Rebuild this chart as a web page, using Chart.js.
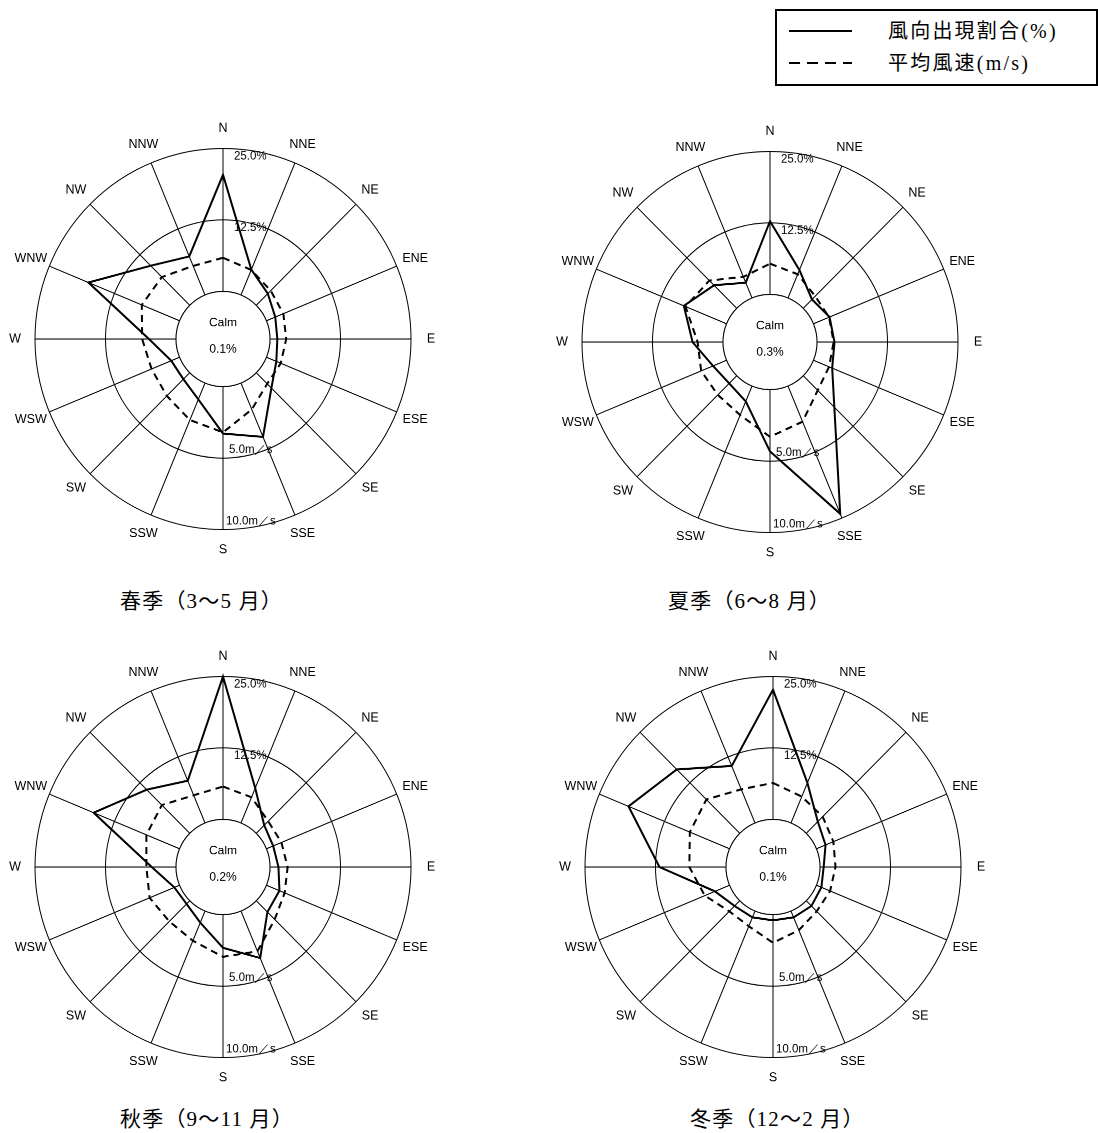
<!DOCTYPE html>
<html lang="ja">
<head>
<meta charset="utf-8">
<title>季節別風配図</title>
<script src="https://cdn.jsdelivr.net/npm/chart.js@4.4.1/dist/chart.umd.min.js"></script>
<style>
  html, body { margin: 0; padding: 0; background: #fff; }
  body { position: relative; width: 1098px; height: 1133px; overflow: hidden; }
  .rose { position: absolute; }
  .cap {
    position: absolute;
    font-family: "Liberation Serif", "Noto Sans CJK JP", serif;
    font-size: 21px;
    letter-spacing: 1.2px;
    line-height: 1;
    white-space: nowrap;
    color: #000;
  }
  #legend {
    position: absolute; left: 775px; top: 9px;
    width: 323px; height: 77px;
    box-sizing: border-box; border: 2px solid #000;
  }
  .lg-text {
    position: absolute; left: 111px;
    font-family: "Liberation Serif", "Noto Sans CJK JP", serif;
    font-size: 20px; letter-spacing: 2.2px; line-height: 1;
    white-space: nowrap;
  }
</style>
</head>
<body>

<div id="legend">
  <svg width="80" height="70" style="position:absolute;left:10px;top:0">
    <line x1="2" y1="20" x2="65" y2="20" stroke="#000" stroke-width="2"/>
    <line x1="2" y1="52" x2="65" y2="52" stroke="#000" stroke-width="2" stroke-dasharray="11 7"/>
  </svg>
  <div class="lg-text" style="top:10px">風向出現割合(%)</div>
  <div class="lg-text" style="top:42px">平均風速(m/s)</div>
</div>

<!-- the source figure is stretched a little vertically: 440 -> 446 -->
<canvas id="c0" class="rose" width="440" height="440" style="left:3px;top:116px;width:440px;height:446px"></canvas>
<canvas id="c1" class="rose" width="440" height="440" style="left:550px;top:119px;width:440px;height:446px"></canvas>
<canvas id="c2" class="rose" width="440" height="440" style="left:3px;top:644px;width:440px;height:446px"></canvas>
<canvas id="c3" class="rose" width="440" height="440" style="left:553px;top:644px;width:440px;height:446px"></canvas>

<div class="cap" id="t0" style="left:120px;top:591px"></div>
<div class="cap" id="t1" style="left:668px;top:591px"></div>
<div class="cap" id="t2" style="left:120px;top:1109px"></div>
<div class="cap" id="t3" style="left:690px;top:1109px"></div>

<script>
/* ================================================
   DATA
================================================ */

const DIRS = ['N', 'NNE', 'NE', 'ENE', 'E', 'ESE', 'SE', 'SSE',
              'S', 'SSW', 'SW', 'WSW', 'W', 'WNW', 'NW', 'NNW'];

/* ring values on each scale */
const PCT_RINGS = [12.5, 25.0];
const SPD_RINGS = [5.0, 10.0];

/* 風向出現割合 (%) */
const springPct = [20.4, 4.8, 2.9, 1.7, 1.3, 1.9, 3.8, 10.2, 8.2, 3.1, 1.6, 1.6, 4.8, 17.5, 9.8, 7.3];
const summerPct = [12.8, 5.3, 2.2, 3.1, 3.1, 3.6, 7.8, 24.2, 10.8, 2.9, 1.9, 2.6, 5.4, 8.2, 5.7, 2.9];
const autumnPct = [25.0, 6.6, 2.0, 1.3, 1.5, 2.5, 2.8, 8.9, 5.8, 2.2, 0.8, 1.0, 4.3, 16.5, 10.8, 8.0];
const winterPct = [22.7, 7.6, 2.9, 1.75, 0.65, 0.95, 1.3, 1.2, 1.0, 1.2, 1.3, 2.8, 11.8, 19.4, 15.8, 10.8];

/* 平均風速 (m/s) */
const springSpd = [2.35, 1.9, 1.45, 1.3, 1.15, 1.1, 1.1, 2.0, 3.2, 2.8, 2.3, 2.15, 2.4, 2.9, 2.8, 2.2];
const summerSpd = [2.15, 1.8, 1.2, 1.2, 1.18, 1.2, 1.45, 2.7, 3.3, 2.2, 1.9, 1.95, 1.8, 3.15, 2.75, 1.6];
const autumnSpd = [2.3, 1.95, 1.2, 1.15, 1.25, 1.4, 1.85, 3.05, 2.95, 2.25, 2.05, 2.3, 2.1, 2.55, 2.8, 2.1];
const winterSpd = [2.55, 2.0, 1.65, 1.3, 1.1, 1.05, 1.05, 1.45, 1.97, 1.15, 1.05, 1.9, 2.6, 3.05, 3.35, 2.55];

/* 静穏率 Calm (%) */
const calmPct = [0.1, 0.3, 0.2, 0.1];

const seasonTitles = ['春季（3～5 月）', '夏季（6～8 月）', '秋季（9～11 月）', '冬季（12～2 月）'];

const seasons = [
  { pct: springPct, spd: springSpd },
  { pct: summerPct, spd: summerSpd },
  { pct: autumnPct, spd: autumnSpd },
  { pct: winterPct, spd: winterSpd },
];

/* ================================================
   STYLE
================================================ */

const SANS = '"Liberation Sans", Arial, sans-serif';
const PCT_MAX = PCT_RINGS[PCT_RINGS.length - 1];
const SPD_MAX = SPD_RINGS[SPD_RINGS.length - 1];
/* the calm circle is 1/4 of the outer radius: min = -max/3 puts 0 there */

/* ================================================
   PLUGIN — calm circle, direction names, ring labels
================================================ */

const roseDecor = {
  id: 'roseDecor',
  beforeDatasetsDraw(chart, args, opts) {
    const r   = chart.scales.r;
    const s   = chart.scales.s;
    const ctx = chart.ctx;
    const cx  = r.xCenter;
    const cy  = r.yCenter;
    const hole = r.getDistanceFromCenterForValue(0);

    ctx.save();

    /* calm circle hides the spokes */
    ctx.beginPath();
    ctx.arc(cx, cy, hole, 0, Math.PI * 2);
    ctx.fillStyle = '#fff';
    ctx.fill();
    ctx.lineWidth = 1;
    ctx.strokeStyle = '#000';
    ctx.stroke();

    ctx.fillStyle = '#000';
    ctx.textBaseline = 'middle';

    /* direction names */
    ctx.font = '12.5px ' + SANS;
    ctx.textAlign = 'center';
    chart.data.labels.forEach((lbl, i) => {
      const p = r.getPointPosition(i, r.drawingArea + 20);
      ctx.fillText(lbl, p.x, p.y);
    });

    /* Calm */
    ctx.font = '12px ' + SANS;
    ctx.fillText('Calm', cx, cy - 16);
    ctx.fillText(opts.calm.toFixed(1) + '%', cx, cy + 10);

    /* ring labels */
    ctx.font = '11.5px ' + SANS;
    ctx.textAlign = 'left';
    PCT_RINGS.forEach(v => {
      ctx.fillText(v.toFixed(1) + '%', cx + 11, cy - r.getDistanceFromCenterForValue(v) + 8);
    });
    const spdDx = [6, 3];
    SPD_RINGS.forEach((v, i) => {
      ctx.fillText(v.toFixed(1) + 'm／s', cx + spdDx[i], cy + s.getDistanceFromCenterForValue(v) - 8);
    });

    ctx.restore();
  }
};

/* ================================================
   BUILD ONE ROSE
================================================ */

function buildRose(idx) {
  const ss = seasons[idx];
  const canvas = document.getElementById('c' + idx);

  new Chart(canvas.getContext('2d'), {
    type: 'radar',
    data: {
      labels: DIRS,
      datasets: [
        {
          label: '風向出現割合(%)',
          data: ss.pct,
          rAxisID: 'r',
          borderColor: '#000',
          backgroundColor: 'transparent',
          borderWidth: 2,
          pointRadius: 0,
          fill: false,
        },
        {
          label: '平均風速(m/s)',
          data: ss.spd,
          rAxisID: 's',
          borderColor: '#000',
          backgroundColor: 'transparent',
          borderWidth: 2,
          borderDash: [7, 5],
          pointRadius: 0,
          fill: false,
        },
      ],
    },
    options: {
      responsive: false,
      animation: false,
      devicePixelRatio: 2,   /* drawn at 2x so the slight stretch stays crisp */
      layout: { padding: 32 },
      elements: { line: { tension: 0 } },
      plugins: {
        legend:  { display: false },
        tooltip: { enabled: false },
        roseDecor: { calm: calmPct[idx] },
      },
      scales: {
        r: {
          type: 'radialLinear',
          min: -PCT_MAX / 3,
          max: PCT_MAX,
          afterBuildTicks: sc => {
            sc.ticks = [sc.min, 0, ...PCT_RINGS].map(v => ({ value: v }));
          },
          ticks:       { display: false },
          pointLabels: { display: false },
          grid:        { circular: true, color: '#000', lineWidth: 1 },
          angleLines:  { color: '#000', lineWidth: 1 },
        },
        s: {
          type: 'radialLinear',
          axis: 'r',
          display: false,
          min: -SPD_MAX / 3,
          max: SPD_MAX,
        },
      },
    },
    plugins: [roseDecor],
  });

  document.getElementById('t' + idx).textContent = seasonTitles[idx];
}

[0, 1, 2, 3].forEach(buildRose);
</script>
</body>
</html>
